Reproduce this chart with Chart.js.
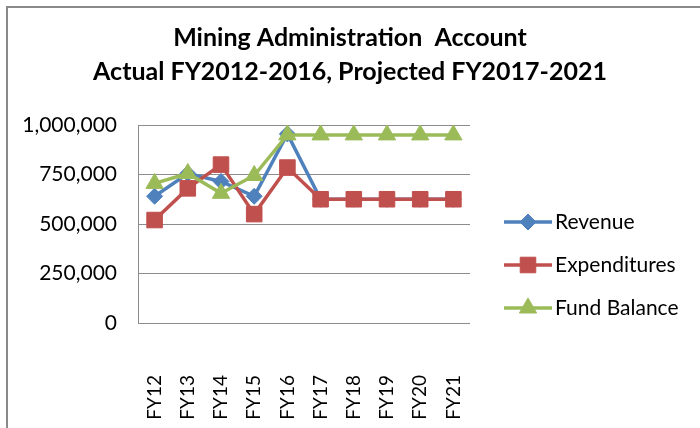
<!DOCTYPE html>
<html>
<head>
<meta charset="utf-8">
<title>Mining Administration Account</title>
<script src="https://cdn.jsdelivr.net/npm/chart.js@4.4.1/dist/chart.umd.min.js"></script>
<style>
  body { margin: 0; background: #fff; }
  canvas { display: block; }
</style>
</head>
<body>
<canvas id="chart-area" width="700" height="428"></canvas>
<script>
var years = ['FY12', 'FY13', 'FY14', 'FY15', 'FY16', 'FY17', 'FY18', 'FY19', 'FY20', 'FY21'];
var revenue = [640000, 755000, 715000, 640000, 955000, 625000, 625000, 625000, 625000, 625000];
var expenditures = [520000, 680000, 800000, 550000, 785000, 625000, 625000, 625000, 625000, 625000];
var fundBalance = [705000, 755000, 655000, 745000, 950000, 950000, 950000, 950000, 950000, 950000];
var yTicks = [0, 250000, 500000, 750000, 1000000];

var font = 'Lato, "Liberation Sans", sans-serif';

// legend drawn by hand so each entry shows line + marker like Excel
var sideLegend = {
    id: 'sideLegend',
    afterDraw: function(chart) {
        var ctx = chart.ctx;
        var rows = [222, 265, 308];
        ctx.save();
        // outer frame (top and left edges are visible in the original)
        ctx.strokeStyle = '#8a8a8a';
        ctx.lineWidth = 2;
        ctx.beginPath();
        ctx.moveTo(7, 428);
        ctx.lineTo(7, 7);
        ctx.lineTo(700, 7);
        ctx.stroke();

        chart.data.datasets.forEach(function(ds, i) {
            var y = rows[i];
            ctx.strokeStyle = ds.borderColor;
            ctx.fillStyle = ds.backgroundColor;
            ctx.lineWidth = 3.5;
            ctx.beginPath();
            ctx.moveTo(504, y);
            ctx.lineTo(552, y);
            ctx.stroke();
            ctx.lineWidth = 1;
            Chart.helpers.drawPoint(ctx, {
                pointStyle: ds.pointStyle,
                radius: ds.pointRadius,
                rotation: 0,
                borderWidth: 1
            }, 528, y);
            ctx.fillStyle = '#000';
            ctx.font = '21px ' + font;
            ctx.textBaseline = 'middle';
            ctx.textAlign = 'left';
            ctx.fillText(ds.label, 555, y);
        });
        ctx.restore();
    }
};

var config = {
    type: 'line',
    data: {
        labels: years,
        datasets: [{
            label: 'Revenue',
            data: revenue,
            borderColor: '#4F81BD',
            backgroundColor: '#4F81BD',
            borderWidth: 3.5,
            pointStyle: 'rectRot',
            pointRadius: 8,
            pointHoverRadius: 8,
            pointBorderWidth: 1,
            order: 3
        }, {
            label: 'Expenditures',
            data: expenditures,
            borderColor: '#C0504D',
            backgroundColor: '#C0504D',
            borderWidth: 3.5,
            pointStyle: 'rect',
            pointRadius: 11,
            pointHoverRadius: 11,
            pointBorderWidth: 1,
            order: 2
        }, {
            label: 'Fund Balance',
            data: fundBalance,
            borderColor: '#9BBB59',
            backgroundColor: '#9BBB59',
            borderWidth: 3.5,
            pointStyle: 'triangle',
            pointRadius: 10,
            pointHoverRadius: 10,
            pointBorderWidth: 1,
            order: 1
        }]
    },
    options: {
        responsive: false,
        devicePixelRatio: 1,
        animation: false,
        layout: { padding: 0 },
        plugins: {
            legend: { display: false },
            tooltip: { enabled: false },
            title: {
                display: true,
                text: ['Mining Administration  Account', 'Actual FY2012-2016, Projected FY2017-2021'],
                color: '#000',
                font: { family: font, size: 25, weight: 'bold', lineHeight: 1.36 },
                padding: { top: 21, bottom: 36 }
            }
        },
        scales: {
            x: {
                offset: true,
                grid: { display: false },
                border: { display: false },
                ticks: {
                    color: '#000',
                    font: { family: font, size: 19 },
                    minRotation: 90,
                    maxRotation: 90,
                    padding: 44,
                    autoSkip: false
                },
                afterFit: function(scale) { scale.height = 105; }
            },
            y: {
                min: 0,
                max: 1000000,
                afterBuildTicks: function(scale) {
                    scale.ticks = yTicks.map(function(v) { return { value: v }; });
                },
                grid: { color: '#8c8c8c', lineWidth: 1, drawTicks: false },
                border: { display: true, color: '#8c8c8c', width: 1 },
                ticks: {
                    color: '#000',
                    font: { family: font, size: 21 },
                    padding: 21,
                    callback: function(v) { return v.toLocaleString('en-US'); }
                },
                afterFit: function(scale) { scale.width = 138; }
            },
            // empty axis that only keeps room free for the legend
            legendSpace: {
                type: 'linear',
                position: 'right',
                grid: { display: false },
                border: { display: false },
                ticks: { display: false },
                afterFit: function(scale) { scale.width = 230; }
            }
        }
    },
    plugins: [sideLegend]
};

window.onload = function() {
    var ctx = document.getElementById('chart-area').getContext('2d');
    window.myLine = new Chart(ctx, config);
};
</script>
</body>
</html>
